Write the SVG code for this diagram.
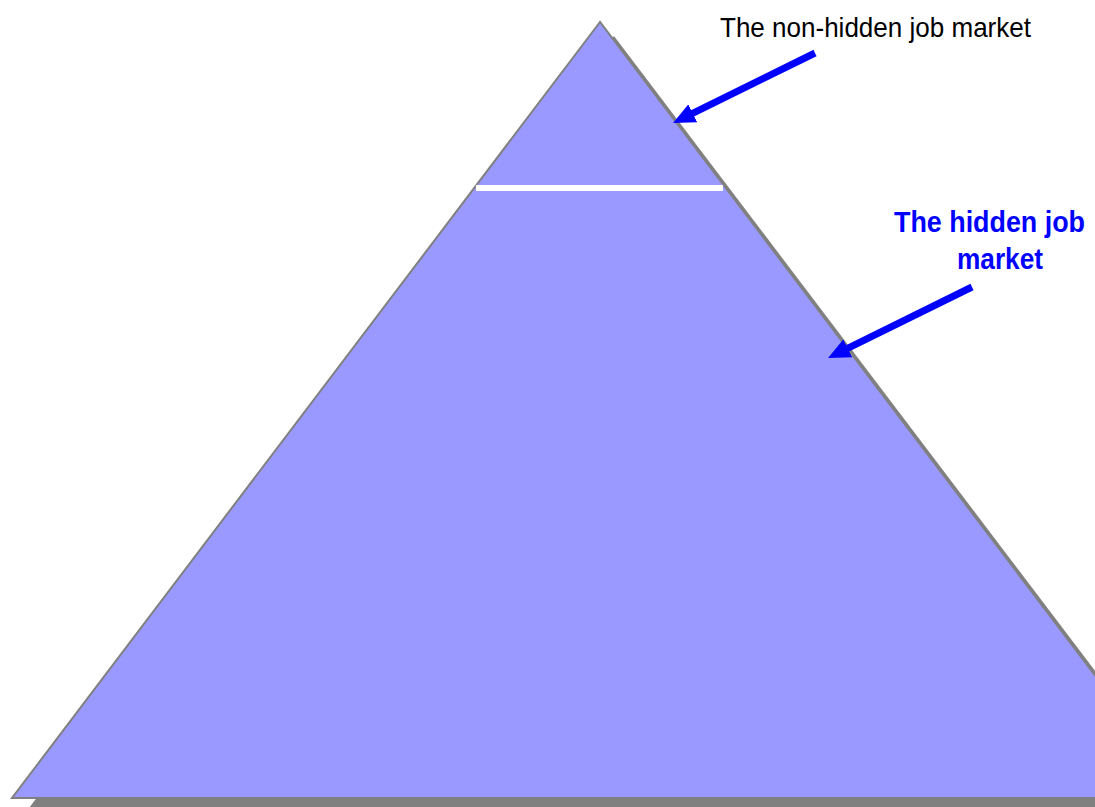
<svg xmlns="http://www.w3.org/2000/svg" width="1095" height="807" viewBox="0 0 1095 807">
  <style>
    .pyr { fill: #9999FF; stroke: #808080; stroke-width: 2; }
    .shadow { fill: #808080; }
    .conn { stroke: #0000FF; stroke-width: 7; fill: none; }
    .lbl-black { font-family: "Liberation Sans", Arial, sans-serif; font-size: 28px; fill: #000000; }
    .lbl-blue { font-family: "Liberation Sans", Arial, sans-serif; font-size: 29px; font-weight: bold; fill: #0000FF; }
  </style>
  <defs>
    <marker id="arrow" markerUnits="userSpaceOnUse" viewBox="0 0 22 20" markerWidth="22" markerHeight="20" refX="7" refY="10" orient="auto">
      <path d="M0,0 L22,10 L0,20 z" fill="#0000FF"/>
    </marker>
  </defs>
  <rect width="1095" height="807" fill="#FFFFFF"/>
  <g id="pyramid">
    <polygon class="shadow" points="614,36 26,812 1202,812"/>
    <polygon class="pyr" points="600,22 12,798 1188,798"/>
    <line x1="476" y1="188" x2="723" y2="188" stroke="#FFFFFF" stroke-width="6"/>
  </g>
  <g id="label-nonhidden">
    <text class="lbl-black" x="720" y="37" textLength="311" lengthAdjust="spacingAndGlyphs">The non-hidden job market</text>
  </g>
  <g id="label-hidden">
    <text class="lbl-blue" x="894" y="232" textLength="191" lengthAdjust="spacingAndGlyphs">The hidden job</text>
    <text class="lbl-blue" x="957" y="269" textLength="86" lengthAdjust="spacingAndGlyphs">market</text>
  </g>
  <g id="connectors">
    <line class="conn" x1="815" y1="53" x2="686.5" y2="116.4" marker-end="url(#arrow)"/>
    <line class="conn" x1="972" y1="287" x2="841.5" y2="351.4" marker-end="url(#arrow)"/>
  </g>
</svg>
